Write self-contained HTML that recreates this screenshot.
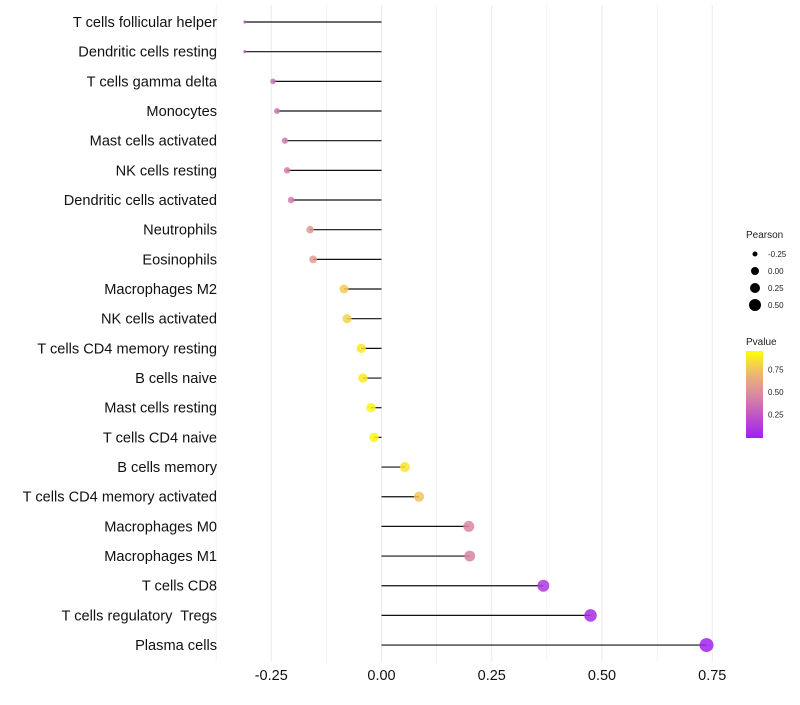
<!DOCTYPE html>
<html><head><meta charset="utf-8"><style>
body{margin:0;background:#fff;font-family:"Liberation Sans",sans-serif}
text{white-space:pre}
</style></head><body>
<svg id="c" width="800" height="700" xmlns="http://www.w3.org/2000/svg" font-family="Liberation Sans, sans-serif"></svg>
<script>
const categories=["T cells follicular helper","Dendritic cells resting","T cells gamma delta","Monocytes","Mast cells activated","NK cells resting","Dendritic cells activated","Neutrophils","Eosinophils","Macrophages M2","NK cells activated","T cells CD4 memory resting","B cells naive","Mast cells resting","T cells CD4 naive","B cells memory","T cells CD4 memory activated","Macrophages M0","Macrophages M1","T cells CD8","T cells regulatory  Tregs","Plasma cells"];
const pearson=[-0.31,-0.31,-0.246,-0.237,-0.219,-0.214,-0.205,-0.162,-0.155,-0.085,-0.078,-0.046,-0.042,-0.024,-0.017,0.053,0.085,0.198,0.2,0.367,0.474,0.737];
const pvalue=[0.22,0.22,0.38,0.38,0.42,0.43,0.45,0.58,0.6,0.82,0.84,0.92,0.93,0.96,0.97,0.9,0.8,0.48,0.47,0.12,0.06,0.01];
const xTicks=[-0.25,0,0.25,0.5,0.75];
const xTickLabels=["-0.25","0.00","0.25","0.50","0.75"];
const sizeLegend=[-0.25,0,0.25,0.5];
const colorTicks=[0.25,0.5,0.75];
const NS="http://www.w3.org/2000/svg",svg=document.getElementById('c');
function mk(t,a,p){const e=document.createElementNS(NS,t);for(const k in a)e.setAttribute(k,a[k]);(p||svg).appendChild(e);return e;}
const x=v=>381.5+v*441;
const y=i=>22+i*29.67;
const sizeKnots=[[-0.31,2.25],[-0.246,7.8],[-0.085,20.25],[0.2,30],[0.737,49]];
function rad(v){let k=sizeKnots;if(v<=k[0][0])return 1.5;for(let i=1;i<k.length;i++){if(v<=k[i][0]){const t=(v-k[i-1][0])/(k[i][0]-k[i-1][0]);return Math.sqrt(k[i-1][1]+t*(k[i][1]-k[i-1][1]));}}return 7;}
const stops=[[0,[160,32,240]],[0.5,[218,138,160]],[0.75,[240,184,110]],[1,[255,255,0]]];
function col(p){for(let i=1;i<stops.length;i++){if(p<=stops[i][0]){const a=stops[i-1],b=stops[i],t=(p-a[0])/(b[0]-a[0]);return 'rgb('+a[1].map((c,k)=>Math.round(c+(b[1][k]-c)*t)).join(',')+')';}}return 'rgb(255,255,0)';}
for(let v=-0.375;v<=0.8;v+=0.125){const g=mk('line',{x1:x(v),x2:x(v),y1:5,y2:662,stroke:'#ebebeb','stroke-width':Math.abs(v/0.25-Math.round(v/0.25))<1e-6?1:0.6});

}
xTicks.forEach((v,i)=>{const t=mk('text',{x:x(v),y:680,'text-anchor':'middle','font-size':14.5,fill:'#111'});t.textContent=xTickLabels[i];

});
categories.forEach((c,i)=>{
const t=mk('text',{x:217,y:y(i)+5,'text-anchor':'end','font-size':14.6,fill:'#111'});t.textContent=c;


const l=mk('line',{x1:x(0),x2:x(pearson[i]),y1:y(i),y2:y(i),stroke:'#111','stroke-width':1.2});


const d=mk('circle',{cx:x(pearson[i]),cy:y(i),r:rad(pearson[i]),fill:col(pvalue[i]),'fill-opacity':0.85});


});
let t=mk('text',{x:746,y:238,'font-size':10,fill:'#222'});t.textContent='Pearson';


const legR=[2.5,4,5,6];
sizeLegend.forEach((v,i)=>{const cy=254+i*17;
const c=mk('circle',{cx:755,cy:cy,r:legR[i],fill:'#000'});


const s=mk('text',{x:768,y:cy+3,'font-size':8,fill:'#222'});s.textContent=v.toFixed(2);

});
t=mk('text',{x:746,y:345,'font-size':10,fill:'#222'});t.textContent='Pvalue';


const defs=mk('defs',{});const lg=mk('linearGradient',{id:'g',x1:0,y1:1,x2:0,y2:0},defs);
stops.forEach(s=>mk('stop',{offset:s[0],'stop-color':'rgb('+s[1].join(',')+')'},lg));
const cb=mk('rect',{x:746,y:351,width:17,height:87,fill:'url(#g)'});


colorTicks.forEach(v=>{const yy=437-v*90;
const s=mk('text',{x:768,y:yy+3,'font-size':8,fill:'#222'});s.textContent=v.toFixed(2);

});
</script>
</body></html>
